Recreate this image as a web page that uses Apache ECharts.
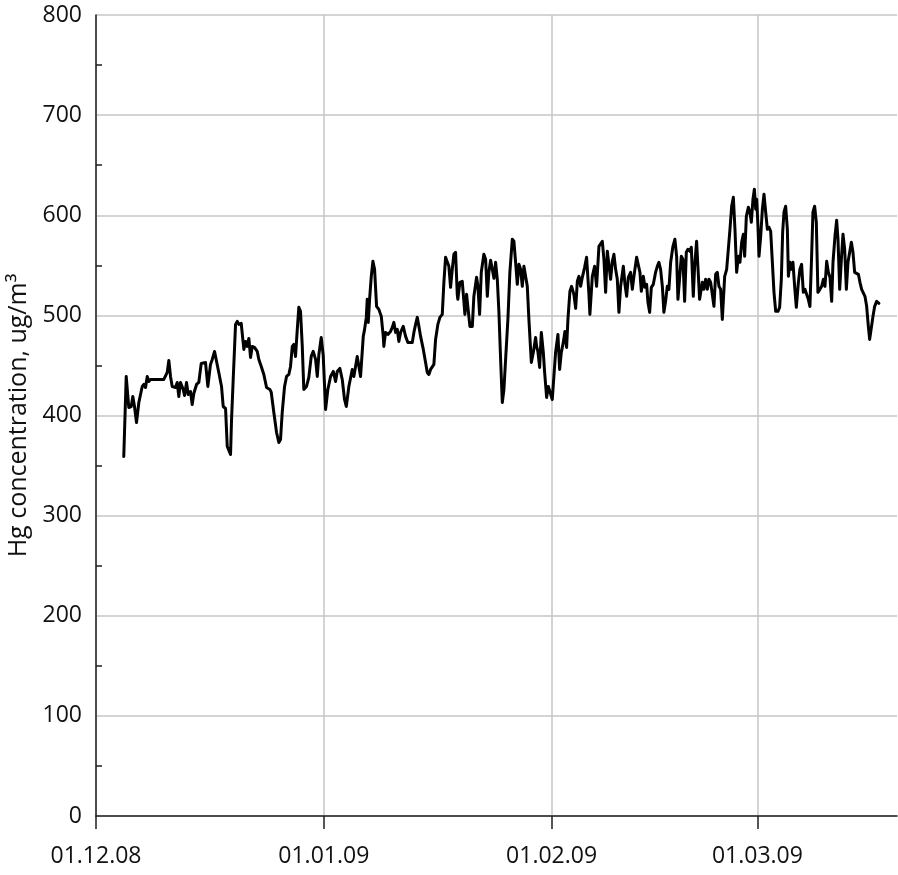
<!DOCTYPE html>
<html>
<head>
<meta charset="utf-8">
<script src="https://cdn.jsdelivr.net/npm/echarts@6/dist/echarts.min.js"></script>
<style>
  html, body { margin: 0; padding: 0; background: #fff; }
  #chart { width: 898px; height: 875px; }
</style>
</head>
<body>
<div id="chart"></div>
<script>
// x: days since 01.12.2008
const tickDays = [0, 31, 62, 90];
const tickLabels = ['01.12.08', '01.01.09', '01.02.09', '01.03.09'];
const yTicks = [0, 100, 200, 300, 400, 500, 600, 700, 800];

const days = [
3.78,4.11,4.46,4.79,5.01,5.24,5.51,5.83,6.29,6.51,6.74,6.97,7.19,7.42,9.23,9.69,9.91,10.14,10.37,10.82,11.05,11.27,11.50,11.87,12.05,12.32,12.55,12.86,13.09,13.31,13.68,13.99,14.32,14.59,14.90,15.22,15.58,15.82,16.13,16.40,16.71,17.08,17.31,17.63,17.86,18.13,18.31,18.44,18.67,18.99,
19.22,19.44,19.76,19.90,20.12,20.35,20.58,20.80,21.03,21.26,21.57,21.94,22.16,22.49,22.84,23.21,23.66,23.85,24.20,24.57,24.88,25.11,25.34,25.66,25.93,26.24,26.47,26.71,26.92,27.15,27.39,27.60,27.83,28.07,28.28,28.65,28.96,29.29,29.56,29.88,30.11,30.33,30.65,30.92,31.24,31.55,31.92,32.29,32.60,32.83,33.18,33.51,33.82,34.06,34.41,
34.87,35.09,35.32,35.55,35.77,36.00,36.14,36.37,36.55,36.78,36.91,37.05,37.23,37.46,37.68,37.91,38.18,38.49,38.82,39.09,39.17,39.40,39.72,40.08,40.32,40.53,40.77,41.00,41.21,41.45,41.81,42.13,42.44,42.71,43.04,43.26,43.49,43.72,43.94,44.17,44.54,44.85,45.08,45.30,45.53,45.98,46.21,46.52,46.80,47.12,47.34,47.57,47.80,48.02,48.25,48.48,48.70,48.93,49.16,49.24,49.52,49.84,50.06,50.20,50.43,50.66,50.88,
51.21,51.42,51.79,51.97,52.20,52.43,52.78,53.02,53.25,53.46,53.70,53.93,54.15,54.38,54.61,54.83,55.06,55.29,55.51,55.74,56.05,56.32,56.65,56.87,57.10,57.33,57.55,57.78,58.01,58.23,58.46,58.69,58.91,59.24,59.51,59.82,59.96,60.13,60.37,60.60,60.87,61.05,61.32,61.55,61.77,62.09,62.31,62.54,62.86,63.09,63.32,63.59,63.81,64.04,64.22,64.49,64.72,65.03,65.27,65.50,65.72,65.95,66.18,66.49,66.76,67.08,67.21,67.54,67.85,68.12,68.44,
68.57,68.90,69.12,69.35,69.58,69.80,70.03,70.26,70.48,70.71,70.94,71.16,71.39,71.76,71.98,72.21,72.44,72.75,72.98,73.20,73.57,73.80,74.02,74.21,74.48,74.70,74.93,75.11,75.34,75.57,75.84,76.15,76.38,76.60,76.83,77.07,77.28,77.51,77.74,77.96,78.20,78.51,78.78,79.01,79.19,79.46,79.65,79.87,80.10,80.33,80.55,80.82,81.01,81.28,81.46,81.73,81.91,82.14,
82.51,82.72,82.96,83.19,83.41,83.64,83.87,84.09,84.32,84.55,84.77,85.00,85.23,85.55,85.82,86.00,86.27,86.50,86.73,86.95,87.18,87.41,87.63,87.86,88.09,88.27,88.50,88.77,88.99,89.18,89.40,89.59,89.77,89.91,90.08,90.22,90.45,90.68,90.90,91.13,91.36,91.58,91.81,92.04,92.26,92.49,92.80,93.03,93.26,93.44,93.62,93.85,94.08,94.22,94.43,94.62,94.84,95.07,95.30,95.58,95.79,96.02,96.25,96.47,96.70,96.93,97.15,97.38,97.56,97.79,98.02,98.24,98.51,98.75,98.98,99.20,99.43,
99.66,99.88,100.11,100.29,100.56,100.79,100.97,101.20,101.43,101.65,101.88,102.11,102.33,102.56,102.79,103.01,103.24,103.51,103.75,103.96,104.19,104.43,104.64,104.87,105.10,105.28,105.51,105.73,105.96,106.23,106.54
];

const hg = [
359,439,408,409,419,409,393,413,429,431,428,439,434,436,436,443,455,439,429,428,433,419,433,426,420,433,421,424,411,422,431,433,452,451,453,429,451,456,464,463,443,429,409,407,369,368,361,395,436,491,
494,491,492,493,466,474,469,477,458,469,468,464,456,449,441,428,426,423,403,383,373,376,403,429,439,441,449,469,471,459,486,508,504,469,426,429,438,459,464,456,439,461,478,460,406,426,439,444,434,444,447,436,416,409,429,
446,439,449,459,460,439,438,479,486,498,516,493,516,539,554,546,509,506,499,479,469,483,481,484,488,493,483,486,474,483,489,479,473,473,473,483,491,498,489,479,466,453,443,441,446,451,476,491,498,501,533,558,559,549,528,546,561,563,521,516,533,534,514,501,521,521,489,
489,519,538,529,501,543,561,556,519,543,555,546,537,553,536,503,456,413,426,456,496,543,576,574,553,531,551,546,529,549,549,529,496,453,463,478,469,464,448,483,463,443,418,429,429,416,439,463,481,446,463,473,484,468,496,524,529,521,507,534,539,529,538,548,558,521,501,539,549,529,569,
569,574,556,523,564,563,536,554,561,546,536,503,529,549,531,519,538,543,526,539,558,559,543,524,539,528,531,513,503,528,531,543,549,553,546,529,503,514,529,526,553,569,576,559,516,541,559,556,514,563,566,564,568,519,549,574,573,516,
533,526,536,526,536,533,534,509,541,543,529,526,496,539,546,546,586,609,618,586,543,559,553,573,581,559,599,608,603,593,616,626,606,616,589,559,579,606,621,603,586,588,584,553,523,504,504,508,536,583,603,609,586,539,553,546,553,529,508,533,546,551,523,526,521,516,509,559,603,609,593,523,526,529,536,529,554,
543,538,514,553,579,595,576,526,556,581,566,526,553,563,573,563,543,543,541,533,526,526,519,509,489,476,476,499,509,514,512
];

const seriesData = days.map((d, i) => [d, hg[i]]);

const FONT = '"Open Sans", "Liberation Sans", sans-serif';
const chart = echarts.init(document.getElementById('chart'), null, { renderer: 'canvas' });
chart.setOption({
  animation: false,
  backgroundColor: '#ffffff',
  grid: { left: 96, right: 1, top: 15, bottom: 59, containLabel: false, outerBoundsMode: 'none' },
  xAxis: {
    type: 'value',
    min: 0,
    max: 109,
    axisLine: { show: true, onZero: false, lineStyle: { color: '#1f1f1f', width: 1.5 } },
    axisTick: { show: true, length: 13, customValues: tickDays, lineStyle: { color: '#1f1f1f', width: 1.5 } },
    axisLabel: {
      customValues: tickDays,
      margin: 29,
      color: '#111',
      fontFamily: FONT,
      fontSize: 23,
      formatter: function (v) { const i = tickDays.indexOf(v); return i >= 0 ? tickLabels[i] : ''; }
    },
    splitLine: { show: true, lineStyle: { color: '#c6c6c6', width: 1.5 } }
  },
  yAxis: {
    type: 'value',
    min: yTicks[0],
    max: yTicks[yTicks.length - 1],
    interval: 100,
    name: 'Hg concentration, ug/m³',
    nameLocation: 'middle',
    nameGap: 60,
    nameTextStyle: { color: '#111', fontFamily: FONT, fontSize: 25 },
    axisLine: { show: true, lineStyle: { color: '#1f1f1f', width: 1.5 } },
    axisTick: { show: false, inside: true },
    minorTick: { show: true, splitNumber: 2, length: 6, lineStyle: { color: '#1f1f1f', width: 1.5 } },
    minorSplitLine: { show: false },
    axisLabel: { margin: 14, color: '#111', fontFamily: FONT, fontSize: 23 },
    splitLine: { show: true, lineStyle: { color: '#c6c6c6', width: 1.5 } }
  },
  series: [{
    type: 'line',
    data: seriesData,
    showSymbol: false,
    symbol: 'none',
    lineStyle: { color: '#000', width: 3, join: 'round', cap: 'round' },
    z: 5
  }]
});
</script>
</body>
</html>
